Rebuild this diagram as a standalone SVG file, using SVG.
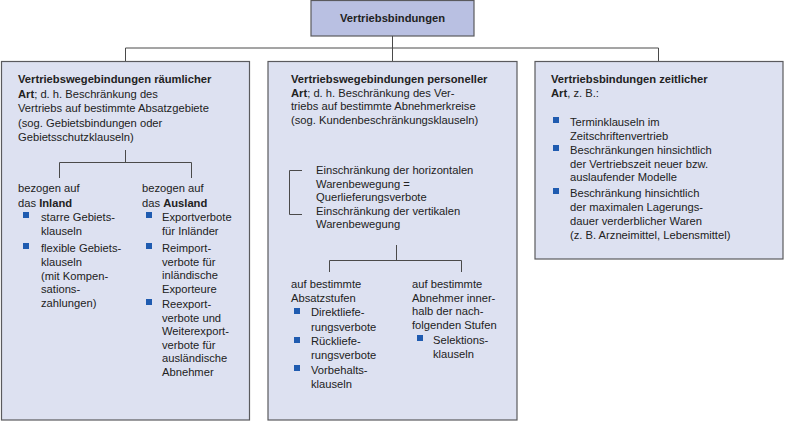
<svg xmlns="http://www.w3.org/2000/svg" width="785" height="422" viewBox="0 0 785 422">
<style>
.box{fill:#dde1f1;stroke:#5a5a5e;stroke-width:1.2}
.top{fill:#b9c0e2;stroke:#5a5a5e;stroke-width:1.2}
.ln{fill:none;stroke:#4a4a4a;stroke-width:1}
text{font-family:"Liberation Sans",Arial,sans-serif;font-size:11.2px;fill:#222}
.b{font-weight:bold}
.bul{fill:#1f5bb0}
</style>
<rect width="785" height="422" fill="#ffffff"/>
<g id="root">
<rect class="top" x="311" y="0.5" width="163" height="35.5"/>
<text class="b" x="392.5" y="22" text-anchor="middle">Vertriebsbindungen</text>
</g>
<g id="raeumlich">
<rect class="box" x="1.5" y="61.5" width="248" height="358.5"/>
<text x="18" y="83"><tspan class="b">Vertriebswegebindungen räumlicher</tspan><tspan x="18" dy="14.5" class="b">Art</tspan>; d. h. Beschränkung des<tspan x="18" dy="14.5">Vertriebs auf bestimmte Absatzgebiete</tspan><tspan x="18" dy="14.5">(sog. Gebietsbindungen oder</tspan><tspan x="18" dy="14.5">Gebietsschutzklauseln)</tspan></text>
</g>
<g id="inland">
<text x="18" y="192">bezogen auf<tspan x="18" dy="14.5">das </tspan><tspan class="b">Inland</tspan></text>
<rect class="bul" x="23" y="212" width="6" height="6"/>
<text x="41" y="221">starre Gebiets-<tspan x="41" dy="14">klauseln</tspan></text>
<rect class="bul" x="23" y="243" width="6" height="6"/>
<text x="41" y="252">flexible Gebiets-<tspan x="41" dy="14">klauseln</tspan><tspan x="41" dy="13.5">(mit Kompen-</tspan><tspan x="41" dy="13.5">sations-</tspan><tspan x="41" dy="13.5">zahlungen)</tspan></text>
</g>
<g id="ausland">
<text x="142" y="192">bezogen auf<tspan x="142" dy="14.5">das </tspan><tspan class="b">Ausland</tspan></text>
<rect class="bul" x="146" y="212" width="6" height="6"/>
<text x="162" y="221">Exportverbote<tspan x="162" dy="14">für Inländer</tspan></text>
<rect class="bul" x="146" y="243" width="6" height="6"/>
<text x="162" y="252">Reimport-<tspan x="162" dy="13.5">verbote für</tspan><tspan x="162" dy="13.5">inländische</tspan><tspan x="162" dy="13.5">Exporteure</tspan></text>
<rect class="bul" x="146" y="299" width="6" height="6"/>
<text x="162" y="308">Reexport-<tspan x="162" dy="13.5">verbote und</tspan><tspan x="162" dy="13.5">Weiterexport-</tspan><tspan x="162" dy="13.5">verbote für</tspan><tspan x="162" dy="13.5">ausländische</tspan><tspan x="162" dy="13.5">Abnehmer</tspan></text>
</g>
<g id="personell">
<rect class="box" x="268" y="61.5" width="249" height="358.5"/>
<text x="291" y="83"><tspan class="b">Vertriebswegebindungen personeller</tspan><tspan x="291" dy="13.5" class="b">Art</tspan>; d. h. Beschränkung des Ver-<tspan x="291" dy="13.5">triebs auf bestimmte Abnehmerkreise</tspan><tspan x="291" dy="13.5">(sog. Kundenbeschränkungsklauseln)</tspan></text>
<text x="316" y="174">Einschränkung der horizontalen<tspan x="316" dy="13.5">Warenbewegung =</tspan><tspan x="316" dy="13.5">Querlieferungsverbote</tspan><tspan x="316" dy="13.5">Einschränkung der vertikalen</tspan><tspan x="316" dy="13.5">Warenbewegung</tspan></text>
</g>
<g id="absatzstufen">
<text x="291" y="288">auf bestimmte<tspan x="291" dy="14">Absatzstufen</tspan></text>
<rect class="bul" x="294" y="308" width="6" height="6"/>
<text x="311" y="316">Direktliefe-<tspan x="311" dy="14.5">rungsverbote</tspan></text>
<rect class="bul" x="294" y="337" width="6" height="6"/>
<text x="311" y="345">Rückliefe-<tspan x="311" dy="14">rungsverbote</tspan></text>
<rect class="bul" x="294" y="365" width="6" height="6"/>
<text x="311" y="374">Vorbehalts-<tspan x="311" dy="14">klauseln</tspan></text>
</g>
<g id="abnehmer">
<text x="412" y="288">auf bestimmte<tspan x="412" dy="13.5">Abnehmer inner-</tspan><tspan x="412" dy="13.5">halb der nach-</tspan><tspan x="412" dy="13.5">folgenden Stufen</tspan></text>
<rect class="bul" x="417" y="335" width="6" height="6"/>
<text x="433" y="344">Selektions-<tspan x="433" dy="14">klauseln</tspan></text>
</g>
<g id="zeitlich">
<rect class="box" x="535" y="61.5" width="248" height="197.5"/>
<text x="551" y="83"><tspan class="b">Vertriebsbindungen zeitlicher</tspan><tspan x="551" dy="14" class="b">Art</tspan>, z. B.:</text>
<rect class="bul" x="553" y="117" width="6" height="6"/>
<text x="570" y="126">Terminklauseln im<tspan x="570" dy="14">Zeitschriftenvertrieb</tspan></text>
<rect class="bul" x="553" y="145" width="6" height="6"/>
<text x="570" y="154">Beschränkungen hinsichtlich<tspan x="570" dy="13.5">der Vertriebszeit neuer bzw.</tspan><tspan x="570" dy="13.5">auslaufender Modelle</tspan></text>
<rect class="bul" x="553" y="188" width="6" height="6"/>
<text x="570" y="197">Beschränkung hinsichtlich<tspan x="570" dy="14">der maximalen Lagerungs-</tspan><tspan x="570" dy="14">dauer verderblicher Waren</tspan><tspan x="570" dy="14">(z. B. Arzneimittel, Lebensmittel)</tspan></text>
</g>
<g id="connectors">
<path class="ln" d="M392.5 36V61M125.5 61V48H658.5V61"/>
<path class="ln" d="M125.5 150V162.5M59.5 178V162.5H191.5V178"/>
<path class="ln" d="M302 170.5H289.5V214.5H302"/>
<path class="ln" d="M396.5 245V260.5M329.5 272V260.5H461.5V272"/>
</g>
</svg>
